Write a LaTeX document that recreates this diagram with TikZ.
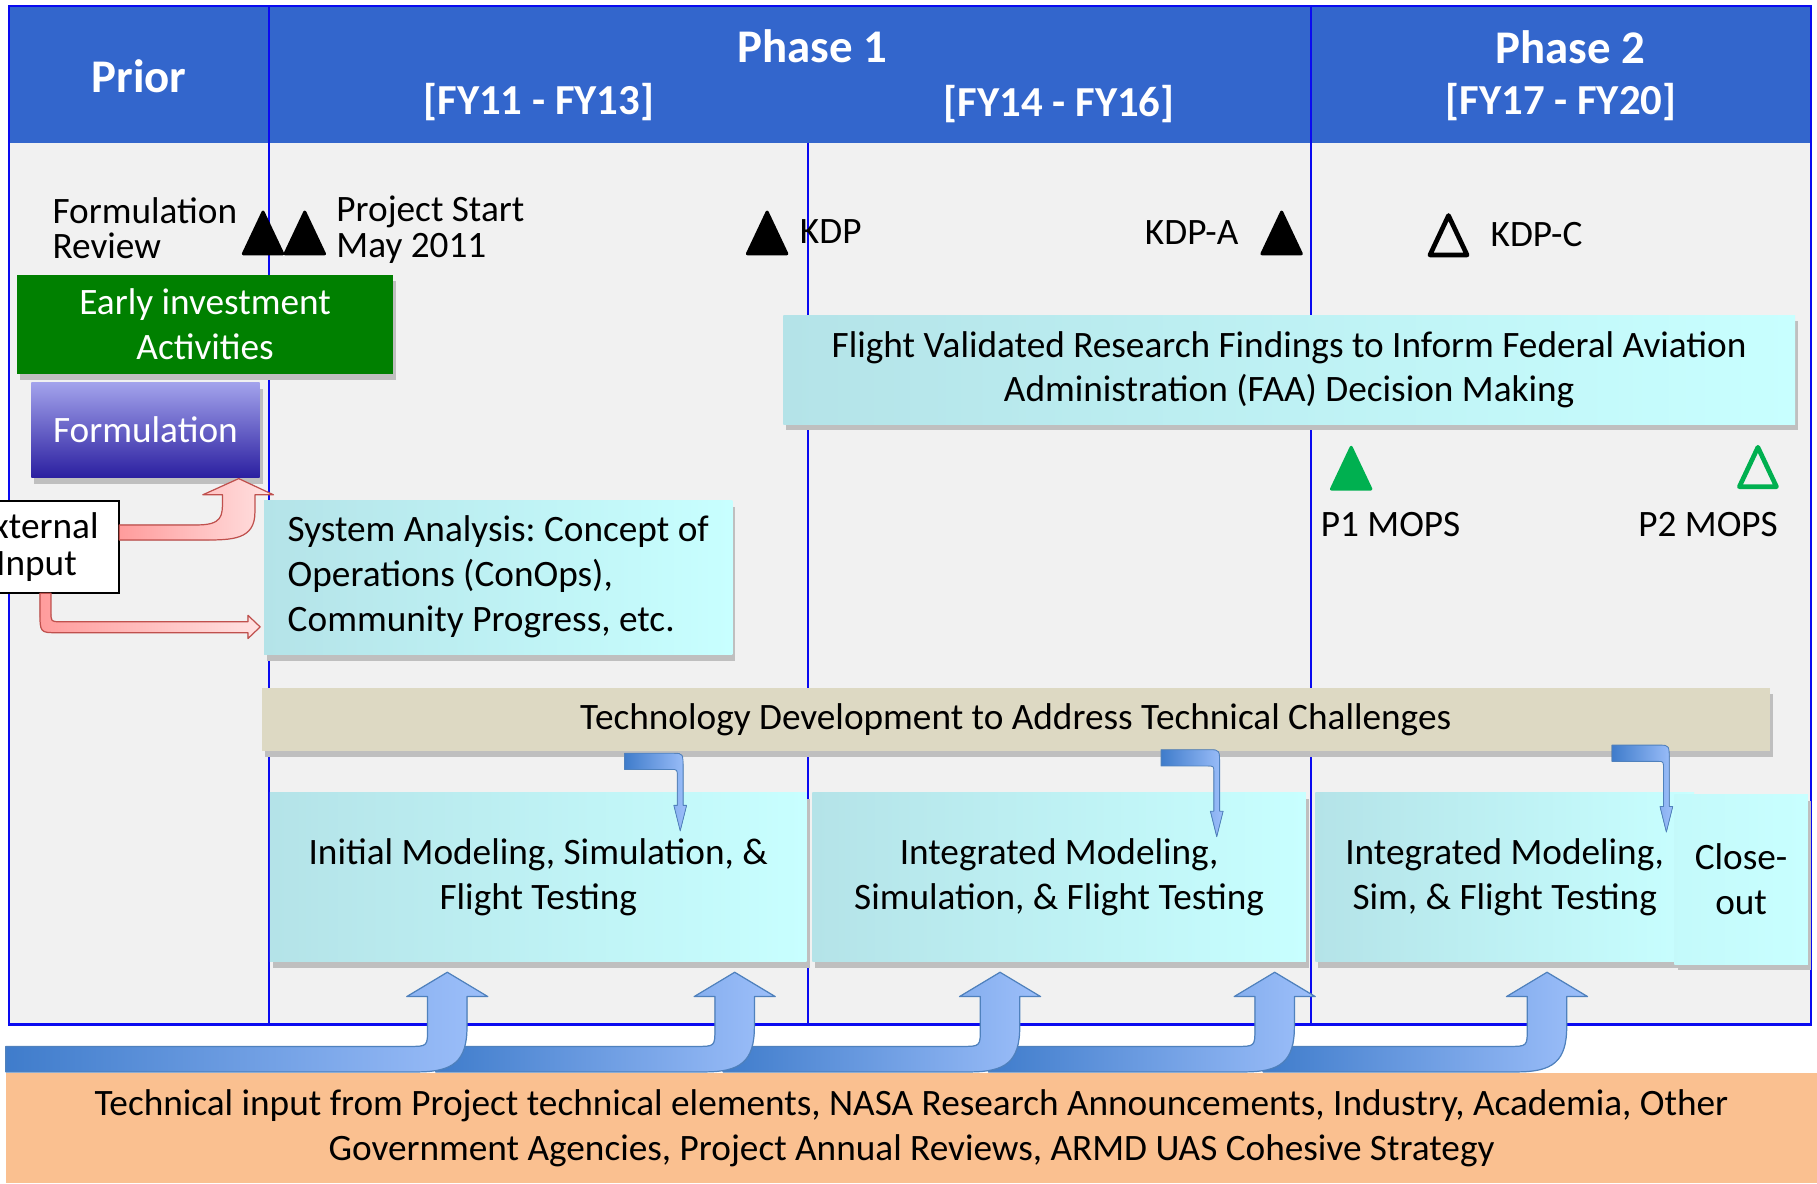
\documentclass[tikz,border=0pt]{standalone}
\usepackage{fontspec}
\setmainfont{Carlito}
\usetikzlibrary{shadows}

\definecolor{headblue}{HTML}{3366CC}
\definecolor{lineblue}{HTML}{0A0AF0}
\definecolor{bodygray}{HTML}{F1F1F1}
\definecolor{earlygreen}{HTML}{008000}
\definecolor{formtop}{HTML}{A3A3EC}
\definecolor{formbot}{HTML}{2B1FA0}
\definecolor{cyanleft}{HTML}{B4E3E8}
\definecolor{cyanright}{HTML}{C8FFFF}
\definecolor{techtan}{HTML}{DDD9C3}
\definecolor{inputorange}{HTML}{FAC090}
\definecolor{bandleft}{HTML}{3F7CCB}
\definecolor{bandright}{HTML}{9DBFFA}
\definecolor{bandedge}{HTML}{4F81BD}
\definecolor{pinkleft}{HTML}{FF9C9C}
\definecolor{pinkright}{HTML}{FFE2E2}
\definecolor{pinkedge}{HTML}{C0504D}
\definecolor{msgreen}{HTML}{00B050}

\tikzset{
  txt/.style={font=\fontsize{18.3}{22}\selectfont, align=center, inner sep=0pt},
  lbl/.style={font=\fontsize{18.3}{17.5}\selectfont, align=left, inner sep=0pt},
  headtxt/.style={font=\fontsize{21}{26}\selectfont\bfseries, text=white, inner sep=0pt},
  headbig/.style={headtxt, font=\fontsize{23}{26}\selectfont\bfseries},
  boxshadow/.style={drop shadow={shadow xshift=1.5pt, shadow yshift=-3pt, fill=black!25, opacity=1}},
  cyanbox/.style={txt, left color=cyanleft, right color=cyanright, boxshadow},
  bandarrow/.style={left color=bandleft, right color=bandright, draw=bandedge, line width=0.6pt, line join=round},
  pinkarrow/.style={left color=pinkleft, right color=pinkright, draw=pinkedge, line width=0.6pt, line join=round},
}

\newcommand{\bigbent}[2]{%
  \filldraw[bandarrow] (#1,903) -- (#2-33,903) .. controls (#2-17,903) .. (#2-17,887)
    -- (#2-17,860) -- (#2-35,860) -- (#2,839) -- (#2+35,860) -- (#2+17,860) -- (#2+17,886)
    .. controls (#2+17,916) and (#2+5,925) .. (#2-26,925) -- (#1,925) -- cycle;}
\newcommand{\smallbent}[4]{%
  \filldraw[bandarrow, line width=0.4pt] (#1,#3) -- (#2-6,#3) .. controls (#2+2.5,#3) .. (#2+2.5,#3+14)
    -- (#2+2.5,#4-22) -- (#2+5.5,#4-22) -- (#2,#4) -- (#2-5.5,#4-22) -- (#2-2.5,#4-22)
    -- (#2-2.5,#3+20) .. controls (#2-2.5,#3+14) .. (#2-8,#3+14) -- (#1,#3+14) -- cycle;}

\begin{document}
\frenchspacing
\begin{tikzpicture}[x=0.2mm, y=-0.2mm]
\useasboundingbox (0,0) rectangle (1568,1021);

\fill[headblue] (8,5) rectangle (1563,123);
\fill[bodygray] (8,123) rectangle (1563,884);
\draw[lineblue, line width=1.2pt] (8,5) rectangle (1563,884);
\foreach \x in {232,1131}
{
    \draw[lineblue, line width=1pt] (\x,5) -- (\x,884);
}
\draw[lineblue, line width=1pt] (697,123) -- (697,884);

\node[headbig] (prior) at (120,66) {Prior};
\node[headbig] (phaseone) at (701,40) {Phase 1};
\node[headtxt] (fyone) at (465,88) {[FY11 - FY13]};
\node[headtxt] (fytwo) at (914,90) {[FY14 - FY16]};
\node[headbig] (phasetwo) at (1355,41) {Phase 2};
\node[headtxt] (fythree) at (1347,88) {[FY17 - FY20]};

\foreach \x in {227,263,662,1106}
{
    \filldraw[line width=1.5pt, line join=round] (\x-17,219) -- (\x,183) -- (\x+17,219) -- cycle;
}
\draw[line width=2.3pt, line join=round] (1250-16,220) -- (1250,186) -- (1250+16,220) -- cycle;
\filldraw[msgreen, line width=1.5pt, line join=round] (1166-17,422) -- (1166,386) -- (1166+17,422) -- cycle;
\draw[msgreen, line width=2.3pt, line join=round] (1517-16,420) -- (1517,386) -- (1517+16,420) -- cycle;

\node[lbl, anchor=west] (formrev) at (45,197) {Formulation\\Review};
\node[lbl, anchor=west] (projstart) at (290,198) {Project Start\\May 2011};
\node[lbl, anchor=west] (kdp) at (690,200) {KDP};
\node[lbl, anchor=east] (kdpa) at (1069,201) {KDP-A};
\node[lbl, anchor=west] (kdpc) at (1286,202) {KDP-C};
\node[lbl] (pone) at (1200,453) {P1 MOPS};
\node[lbl] (ptwo) at (1474,453) {P2 MOPS};

\node[txt, minimum width=64.8mm, minimum height=17.2mm, fill=earlygreen, text=white, boxshadow] (early) at (177,280) {Early investment\\Activities};
\node[txt, minimum width=39.4mm, minimum height=16.4mm, top color=formtop, bottom color=formbot, text=white, boxshadow] (form) at (125.5,371) {Formulation};
\node[lbl, align=center, font=\fontsize{18.3}{18}\selectfont, minimum width=28.6mm, minimum height=16mm, fill=white, draw=black, line width=1pt] (ext) at (31.5,472) {External\\Input};
\node[cyanbox, minimum width=80.8mm, minimum height=26.6mm] (sysana) at (430,498.5) {\begin{tabular}{@{}l@{}}System Analysis: Concept of\\Operations (ConOps),\\Community Progress, etc.\end{tabular}};
\node[cyanbox, minimum width=174.6mm, minimum height=18.8mm] (faa) at (1112.5,319) {Flight Validated Research Findings to Inform Federal Aviation\\Administration (FAA) Decision Making};
\node[txt, minimum width=260.2mm, minimum height=10.8mm, fill=techtan, boxshadow] (tech) at (876.5,621) {Technology Development to Address Technical Challenges};
\node[cyanbox, minimum width=92.6mm, minimum height=29.2mm] (initial) at (464.5,757) {Initial Modeling, Simulation, \&\\Flight Testing};
\node[cyanbox, minimum width=85.2mm, minimum height=29.2mm] (integone) at (914,757) {Integrated Modeling,\\Simulation, \& Flight Testing};
\node[cyanbox, minimum width=65.4mm, minimum height=29.2mm] (integtwo) at (1298.5,757) {Integrated Modeling,\\Sim, \& Flight Testing};
\node[cyanbox, minimum width=23mm, minimum height=29.2mm, left color=cyanright!80!cyanleft, middle color=cyanleft, right color=cyanright] (closeout) at (1502.5,759) {Close-\\out};
\node[txt, minimum width=312.6mm, minimum height=19mm, fill=inputorange] (techinput) at (786.5,973.5) {Technical input from Project technical elements, NASA Research Announcements, Industry, Academia, Other\\Government Agencies, Project Annual Reviews, ARMD UAS Cohesive Strategy};

\filldraw[pinkarrow] (103,453) -- (170,453) .. controls (192,453) and (192,445) .. (192,432) -- (192,427) -- (175,427)
    -- (206,413) -- (236,427) -- (220,427) -- (220,442) .. controls (220,466) and (200,466) .. (175,466) -- (103,466) -- cycle;
\filldraw[pinkarrow] (34.5,512) -- (34.5,528) .. controls (34.5,546) .. (50,546) -- (214,546) -- (214,551) -- (224.5,541)
    -- (214,531) -- (214,536.5) -- (52,536.5) .. controls (44,536.5) .. (44,528) -- (44,512) -- cycle;

\smallbent{539}{587}{650}{717}
\smallbent{1002}{1050}{647}{722}
\smallbent{1391}{1438}{643}{718}

\foreach \xs/\xc in {1090/1335, 853/1100, 624/863, 376/634, 5/386}
{
    \bigbent{\xs}{\xc}
}

\end{tikzpicture}
\end{document}
